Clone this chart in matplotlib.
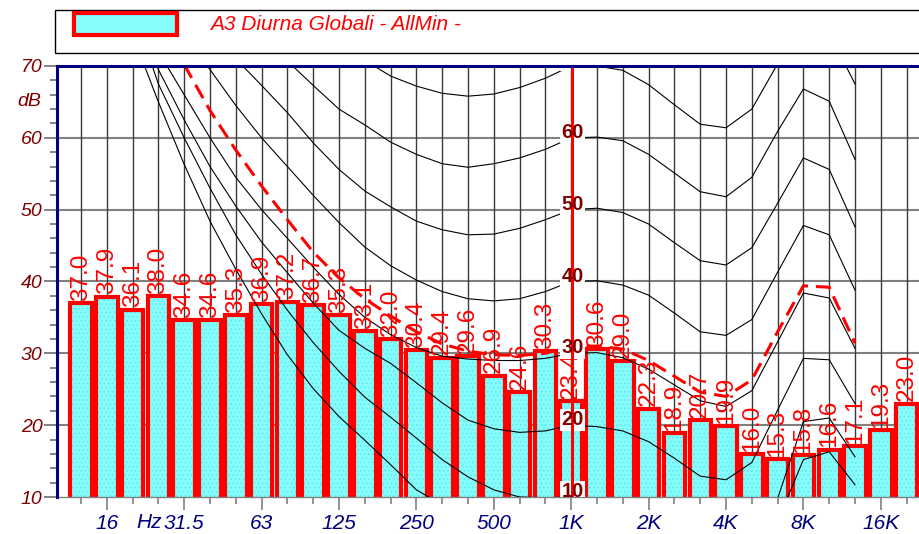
import numpy as np
import matplotlib
matplotlib.use("Agg")
from matplotlib import pyplot as plt
from matplotlib.patches import Rectangle
from matplotlib.ticker import FixedLocator, FixedFormatter

plt.rcParams["font.family"] = ["Liberation Sans", "DejaVu Sans"]
plt.rcParams["hatch.linewidth"] = 0.6

# 1/3 octave bands and measured levels (dB)
bands = ["12.5", "16", "20", "25", "31.5", "40", "50", "63", "80", "100", "125",
         "160", "200", "250", "315", "400", "500", "630", "800", "1K", "1.25K",
         "1.6K", "2K", "2.5K", "3.15K", "4K", "5K", "6.3K", "8K", "10K", "12.5K",
         "16K", "20K"]
levels = [37.0, 37.9, 36.1, 38.0, 34.6, 34.6, 35.3, 36.9, 37.2, 36.7, 35.3,
          33.1, 32.0, 30.4, 29.4, 29.6, 26.9, 24.6, 30.3, 23.4, 30.6, 29.0,
          22.3, 18.9, 20.7, 19.9, 16.0, 15.3, 15.8, 16.6, 17.1, 19.3, 23.0]
tick_bands = ["16", "31.5", "63", "125", "250", "500", "1K", "2K", "4K", "8K", "16K"]

# equal loudness contours, bands 20 Hz .. 12.5 kHz
contour_bands = bands[2:31]
iso_thr = [74.3, 65.0, 56.3, 48.4, 41.7, 35.5, 29.8, 25.1, 21.2, 17.9, 14.5, 11.0,
           8.9, 7.2, 6.0, 5.0, 4.4, 4.2, 3.7, 2.6, 1.0, -1.2, -3.6, -3.9, -1.1,
           6.6, 15.2, 16.3, 11.7]
iso_10 = [78.0, 67.5, 60.0, 53.0, 46.5, 41.0, 36.0, 31.5, 27.5, 23.9, 21.1, 18.2,
          15.2, 12.8, 11.0, 10.0, 9.9, 10.0, 9.3, 8.2, 6.5, 4.0, 1.7, 1.2, 3.8,
          9.8, 20.5, 21.0, 15.6]
iso_20 = [79.5, 69.5, 62.5, 56.0, 50.5, 45.5, 41.2, 37.0, 33.2, 30.7, 28.6, 25.9,
          23.1, 20.7, 19.5, 19.0, 19.2, 20.0, 19.8, 19.2, 17.7, 15.4, 12.9, 12.4,
          14.8, 22.1, 29.3, 29.1, 23.0]
iso_30 = [82.0, 72.0, 66.0, 60.0, 54.5, 50.0, 46.0, 42.0, 38.2, 35.0, 32.6, 30.8,
          29.6, 29.2, 29.0, 29.0, 29.3, 30.0, 30.1, 29.4, 27.8, 25.6, 23.4, 22.6,
          24.8, 31.6, 38.4, 37.7, 30.7]
iso_40 = [86.0, 79.0, 74.5, 69.5, 64.5, 60.0, 56.0, 52.0, 48.2, 44.8, 42.2, 40.2,
          38.6, 37.6, 37.3, 37.6, 38.6, 40.0, 40.1, 39.5, 38.1, 35.6, 33.0, 32.5,
          34.7, 41.3, 47.8, 46.5, 38.8]
iso_50 = [90.0, 85.0, 80.0, 75.0, 71.0, 67.3, 63.5, 59.3, 55.6, 52.6, 50.4, 48.4,
          47.2, 46.5, 46.6, 47.4, 48.6, 50.0, 50.2, 49.6, 48.0, 45.4, 42.9, 42.3,
          44.7, 50.9, 57.2, 55.6, 47.6]
iso_60 = [96.0, 91.0, 86.0, 82.0, 78.0, 74.0, 70.7, 67.3, 64.0, 61.8, 59.4, 57.7,
          56.4, 55.9, 56.4, 57.2, 58.4, 60.0, 60.1, 59.6, 57.7, 55.1, 52.5, 51.8,
          54.5, 60.9, 66.8, 65.1, 57.0]
iso_70 = [102.0, 97.0, 92.0, 88.0, 84.0, 80.5, 77.5, 75.0, 73.5, 70.8, 68.6, 67.2,
          66.2, 65.8, 66.1, 67.0, 68.3, 70.0, 70.0, 69.4, 67.4, 64.6, 61.9, 61.4,
          64.0, 70.3, 76.4, 74.6, 67.5]
contours = [iso_thr, iso_10, iso_20, iso_30, iso_40, iso_50, iso_60, iso_70]
phon_labels = [10, 20, 30, 40, 50, 60, 70]

# dashed red isophone, bands 31.5 Hz .. 12.5 kHz
dashed_bands = bands[4:31]
dashed_iso = [70.2, 63.8, 58.3, 53.3, 48.6, 44.1, 40.5, 37.6, 35.2, 33.0, 31.3,
              30.3, 29.8, 29.7, 30.0, 31.0, 31.0, 30.6, 29.0, 26.8, 24.6, 24.0,
              26.3, 33.0, 39.4, 39.2, 31.4]

legend_text = "A3 Diurna Globali - AllMin -"

W, H = 919, 534
fig = plt.figure(figsize=(W / 100, H / 100), dpi=100)
ax = fig.add_axes([57 / W, 37 / H, 862 / W, 431 / H])

x = np.arange(len(bands))
ax.set_xlim(-0.93, 32.48)
ax.set_ylim(10, 70)

# grid
for yv in range(20, 70, 10):
    ax.axhline(yv, color="#808080", lw=1.5, zorder=0.5)
for xv in x:
    ax.axvline(xv, color="#3a3a3a", lw=1.0, zorder=0.5)

# bars
ax.bar(x, levels, width=0.83, color="#86fdfd", edgecolor="#5fe6ec", hatch="....",
       lw=0, zorder=2)
ax.bar(x, levels, width=0.83, fill=False, edgecolor="red", lw=3.0, zorder=2.1)

# contours
cx = [bands.index(b) for b in contour_bands]
for c in contours:
    ax.plot(cx, c, color="black", lw=0.8, zorder=3)
dx = [bands.index(b) for b in dashed_bands]
ax.plot(dx, dashed_iso, color="red", lw=2.2, dashes=(5, 2.6), zorder=3.5)

# bar values
for xi, v in zip(x, levels):
    ax.text(xi, v + 0.3, f"{v:.1f}", rotation=90, ha="center", va="bottom",
            color="red", fontsize=17.5, zorder=4, clip_on=True)

# phon labels at 1 kHz
k1 = bands.index("1K")
for p in phon_labels:
    ax.text(k1 + 0.05, p, str(p), ha="center", va="baseline", fontsize=14.5,
            fontweight="bold", color=(1, 1, 1, 0), zorder=5, clip_on=True,
            bbox=dict(facecolor="white", edgecolor="none", pad=1.0))
ax.axvline(k1 + 0.03, color="red", lw=2.2, zorder=5.5)
for p in phon_labels:
    ax.text(k1 + 0.05, p, str(p), ha="center", va="baseline", fontsize=14.5,
            fontweight="bold", color="#800000", zorder=6, clip_on=True)

# axes styling
for s in ["left", "top"]:
    ax.spines[s].set_color("#000080")
    ax.spines[s].set_linewidth(2.2)
    ax.spines[s].set_zorder(7)
ax.spines["right"].set_visible(False)
ax.spines["bottom"].set_color("#808080")
ax.spines["bottom"].set_linewidth(1.0)

ax.yaxis.set_major_locator(FixedLocator(range(10, 71, 10)))
ax.yaxis.set_minor_locator(FixedLocator(range(10, 71, 2)))
ax.tick_params(axis="y", which="major", length=9.5, width=1.2, color="#707070",
               pad=1, labelsize=14, labelcolor="#800000")
ax.tick_params(axis="y", which="minor", length=5, width=1.2, color="#707070")
for t in ax.get_yticklabels():
    t.set_fontstyle("italic")
ax.text(-0.93 - 0.6, 65, "dB", ha="right", va="center", fontsize=14,
        style="italic", color="#800000")

tick_idx = [bands.index(b) for b in tick_bands]
ax.xaxis.set_major_locator(FixedLocator(tick_idx))
ax.xaxis.set_major_formatter(FixedFormatter(tick_bands))
ax.xaxis.set_minor_locator(FixedLocator(x))
ax.tick_params(axis="x", which="major", length=9, width=1.2, color="#808080",
               pad=3, labelsize=15, labelcolor="#000080")
ax.tick_params(axis="x", which="minor", length=5, width=1.2, color="#808080")
for t in ax.get_xticklabels():
    t.set_fontstyle("italic")
ax.text(2.64, -0.06, "Hz", transform=ax.get_xaxis_transform(), ha="center",
        va="center", fontsize=15, style="italic", color="#000080")

# legend box
fig.add_artist(Rectangle((55 / W, 1 - 53 / H), 1.0, 43 / H, transform=fig.transFigure,
                         facecolor="white", edgecolor="black", lw=1.0))
fig.add_artist(Rectangle((74 / W, 1 - 35 / H), 103 / W, 22 / H, transform=fig.transFigure,
                         facecolor="#86fdfd", edgecolor="red", lw=3.0))
fig.text(210 / W, 1 - 24 / H, legend_text, ha="left", va="center", fontsize=15,
         style="italic", color="red")

plt.savefig("out.png", dpi=100)
